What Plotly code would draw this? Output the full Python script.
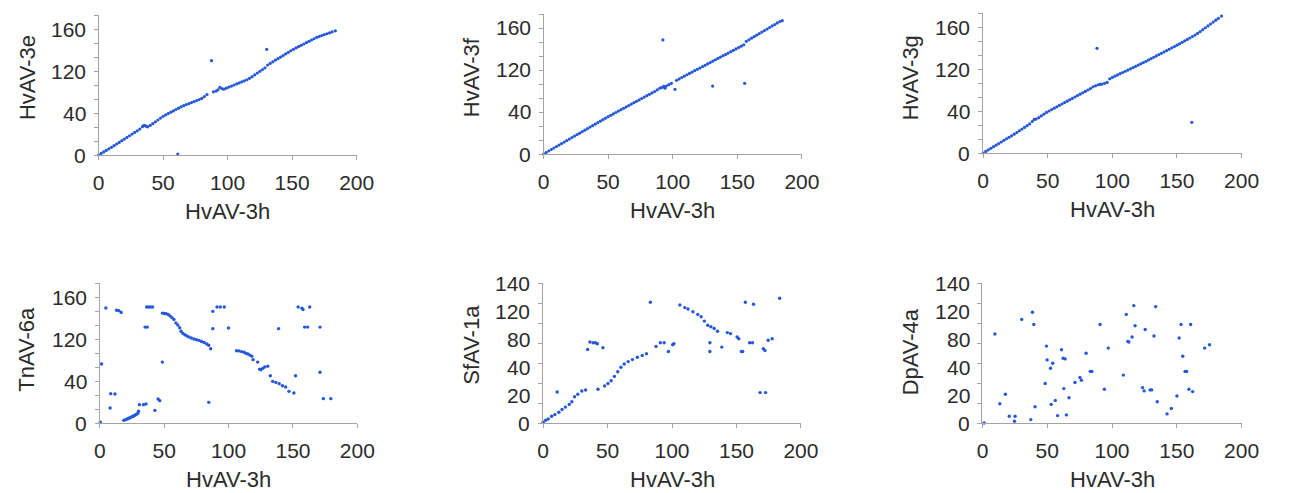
import plotly.graph_objects as go

# ---------------- data ----------------
X_LABEL = "HvAV-3h"
Y_LABELS = ["HvAV-3e", "HvAV-3f", "HvAV-3g", "TnAV-6a", "SfAV-1a", "DpAV-4a"]

X_TICKS = [0, 50, 100, 150, 200]
# y tick label positions / texts as printed on the figure
Y_TICKVALS_A = [0, 60, 120, 180]
Y_TICKTEXT_A = ["0", "40", "120", "160"]
Y_TICKVALS_B = [0, 28, 56, 84, 112, 140]
Y_TICKTEXT_B = ["0", "20", "40", "80", "120", "140"]

# HvAV-3e vs HvAV-3h
E_X = [0, 2, 4, 6, 8, 10, 12, 14, 16, 18, 20, 22, 24, 26, 28, 30, 32, 34, 35, 36, 37, 38, 40, 42, 44, 46, 48,
       50, 52, 54, 56, 58, 60, 62, 64, 66, 68, 70, 72, 74, 76, 78, 80, 82, 84,
       89, 91, 92.5, 94, 95.5, 97, 99, 101, 103, 105, 107, 109, 111, 113, 115, 117, 119, 121, 123, 125, 127, 129,
       131, 133, 135, 137, 139, 141, 143, 145, 147, 149, 151, 153, 155, 157, 159, 161, 163, 165, 167, 169,
       171, 173, 175, 177, 179, 181, 183.5,
       87.5, 130.3, 61.4]
E_Y = [0, 2.2, 4.4, 6.6, 8.8, 11, 13.3, 15.6, 18, 20.4, 22.8, 25.1, 27.5, 29.9, 32.3, 34.6, 37, 40.5, 42, 42, 41, 40.2, 42.3, 44.7, 47.3, 50, 52.8,
       55.3, 57.3, 59.2, 61.2, 63, 65, 66.9, 68.8, 70.5, 72, 73.4, 74.9, 76.3, 77.8, 79.2, 80.8, 83.5, 86.4,
       90.3, 91.3, 93, 96.5, 95, 94, 95.5, 97, 98.5, 100, 101.5, 103, 104.5, 106, 107.5, 109.5, 111.9, 114.5, 117, 119.5, 122, 124.5,
       128.6, 130.8, 133.1, 135.4, 137.6, 139.8, 142.1, 144.4, 146.6, 148.9, 151, 152.9, 154.8, 156.7, 158.6, 160.5, 162.4, 164.3, 166.1, 168,
       169.4, 170.7, 172, 173.2, 174.5, 175.8, 177.4,
       134.8, 151, 1.4]

# HvAV-3f vs HvAV-3h
F_X = [0, 2, 4, 6, 8, 10, 12, 14, 16, 18, 20, 22, 24, 26, 28, 30, 32, 34, 36, 38, 40, 42, 44, 46, 48,
       50, 52, 54, 56, 58, 60, 62, 64, 66, 68, 70, 72, 74, 76, 78, 80, 82, 84, 86,
       88, 90, 91.5, 93, 94, 95, 97, 99, 103, 105, 107, 109, 111, 113, 115, 117, 119, 121, 123, 125, 127, 129,
       131, 133, 135, 137, 139, 141, 143, 145, 147, 149, 151, 153, 155,
       157, 159, 161, 163, 165, 167, 169, 171, 173, 175, 177, 179, 181, 183, 184.8,
       92.4, 101.8, 130.9, 155.7]
F_Y = [0, 2.1, 4.3, 6.4, 8.5, 10.7, 12.8, 14.9, 17.1, 19.2, 21.3, 23.5, 25.6, 27.7, 29.8, 32, 34.1, 36.2, 38.4, 40.5, 42.6, 44.8, 46.9, 49, 51.2,
       53.3, 55.3, 57.3, 59.3, 61.3, 63.3, 65.3, 67.3, 69.3, 71.3, 73.3, 75.3, 77.3, 79.3, 81.3, 83.3, 85.3, 87.3, 89.3,
       91.5, 94, 95, 96.5, 94, 97, 99, 101, 105.3, 107.3, 109.3, 111.2, 113.2, 115.1, 117, 119, 120.9, 122.8, 124.8, 126.7, 128.7, 130.6,
       132.6, 134.5, 136.5, 138.4, 140.4, 142.3, 144.2, 146.2, 148.1, 150.1, 152, 154, 155.9,
       161, 163.2, 165.4, 167.6, 169.8, 172, 174.2, 176.3, 178.5, 180.7, 182.9, 185, 187.2, 189.3, 190.5,
       162.9, 92.4, 97, 101]

# HvAV-3g vs HvAV-3h
G_X = [0, 2, 4, 6, 8, 10, 12, 14, 16, 18, 20, 22, 24, 26, 28, 30, 32, 34, 36, 38, 39.5, 41, 43, 45, 47, 49,
       51, 53, 55, 57, 59, 61, 63, 65, 67, 69, 71, 73, 75, 77, 79, 81, 83,
       85, 87, 89, 90.5, 92, 94, 96, 98, 100, 102, 104, 106, 108, 110, 112, 114, 116, 118, 120, 122, 124,
       126, 128, 130, 132, 134, 136, 138, 140, 142, 144, 146, 148, 150, 152, 154, 156, 158, 160, 162, 164,
       166, 168, 170, 172, 174, 176, 178, 180, 182, 184.5,
       88.1, 161.5]
G_Y = [0, 2.2, 4.5, 6.7, 9, 11.2, 13.4, 15.7, 17.9, 20.2, 22.4, 24.6, 26.9, 29.2, 31.7, 34.2, 36.6, 39.1, 41.6, 45, 48, 48.5, 50.5, 53, 55.5, 58,
       60, 62, 64, 66, 68, 70, 72, 74, 76, 78, 80, 82, 84, 86, 88, 90, 92,
       94.5, 96, 97.5, 98, 98.5, 99.5, 101, 106, 108, 109.8, 111.6, 113.3, 115, 116.8, 118.5, 120.3, 122, 123.8, 125.6, 127.4, 129.2,
       131, 132.9, 134.8, 136.8, 138.7, 140.6, 142.5, 144.4, 146.3, 148.2, 150.2, 152.1, 154, 156, 158.1, 160.2, 162.3, 164.3, 166.4, 168.5,
       170.8, 173.5, 176.2, 178.9, 181.6, 184.3, 187, 189.7, 192.3, 195.6,
       149.5, 43.8]

# TnAV-6a vs HvAV-3h
T_X = [0.3, 1.3, 4.6, 7.9, 8.4, 11.7, 13, 14.7, 16.5,
       18.5, 19.5, 20.5, 21.5, 22.5, 23.5, 24.5, 25.5, 26.5, 27.5, 28.5, 29.5, 30,
       30.7, 33.8, 35.8, 35.1, 36.8, 36.3, 37.8, 39.3, 40.9, 42.7, 45.2, 46.5, 48.5,
       48.5, 50, 51.5, 53, 54.5, 56, 57.5, 59, 60.5, 62, 63, 64.5, 66, 67.5, 69, 71, 73, 75, 77, 79, 81, 83, 84.5, 86,
       84.6, 87.7, 87.7, 91, 93.5, 96.6, 99.9,
       106.2, 108, 110, 112, 113.5, 115, 116.5, 118, 119, 122.5, 124, 125, 126.5, 128, 130.4,
       132.4, 134.2, 136.7, 139.3, 141.8, 144.3, 146.9, 150.7,
       138.8, 152, 154, 157, 157.8, 163, 159, 161.4, 171, 171, 173.6, 179.4]
T_Y = [1, 84.3, 164.3, 21.4, 41.9, 41.4, 161, 160.5, 158,
       3.8, 4.5, 5.2, 6, 6.8, 7.6, 8.5, 9.4, 10.4, 11.4, 12.6, 14, 16.7,
       26.2, 26.2, 27.1, 137, 137, 165.7, 165.7, 165.7, 165.7, 18, 34.3, 31.9, 87,
       157, 156.5, 156, 155, 153, 150.5, 148, 143, 140, 136, 131, 128, 126, 124.5, 123, 121.5, 120, 119, 118, 116.5, 115, 113, 111, 106,
       29.5, 159.5, 134.8, 165.7, 165.7, 165.7, 135.7,
       103.3, 103, 102, 101, 99.5, 98.5, 97, 95.5, 90.5, 87, 77, 76, 78, 80, 81,
       67.6, 59.5, 58, 56.2, 53.3, 51.4, 45.2, 42.9,
       134.8, 67.6, 165.7, 164, 162, 165.7, 137, 137, 137, 72.4, 34.8, 34.8]

# SfAV-1a vs HvAV-3h
S_X = [0, 2, 4, 6.6, 9.1, 12.2, 14.7, 17.3, 20.3, 22.3, 24.4, 26.9, 30, 33,
       10.9, 34.5, 36.3, 38.8, 40.6, 42.1, 42.6, 46.4,
       47.7, 50.3, 52.8, 55.3, 57.9, 60.4, 62.9, 66, 69.3, 73.1, 76.9, 80.2,
       83.2, 87.6, 90.9, 93.9, 97.2, 100.5, 101.5,
       106.1, 109.9, 112.4, 116.2, 120, 122.6, 125.1, 127.7, 130.2, 132.7, 135.3,
       129.4, 129.4, 138.6, 142.9, 145.4, 150.5, 151.8, 153.8, 154.8,
       156.9, 163.2, 160.2, 162.4, 168.3, 172.6, 170.8, 172.1, 174.6, 177.7, 183.5]
S_Y = [0.7, 2.7, 4, 6.7, 8.4, 10.8, 13.5, 15.9, 18.6, 21.3, 26.3, 28.7, 32, 33,
       31, 73.5, 81, 80.3, 80.3, 79.3, 33.7, 75.2,
       37.1, 39.5, 42.2, 46.6, 51.3, 55.7, 59, 61.4, 63.4, 65.8, 67.5, 69.2,
       120.8, 76.6, 80.3, 80.3, 71.5, 78.3, 79.3,
       118, 115.4, 114, 111.3, 108.6, 106.3, 101.9, 97.8, 96.2, 94.5, 91.8,
       80.3, 71.5, 75.9, 90.4, 89.4, 86, 84.3, 71.5, 71.5,
       120.8, 118.8, 80.3, 80.3, 30.4, 30.4, 74.2, 72.5, 82.7, 84.3, 124.8]

# DpAV-4a vs HvAV-3h
D_X = [1.3, 9.6, 13.4, 17.7, 20.7, 24.7, 25.2, 30.3, 37.3, 38.6, 39.6, 40.6,
       48.4, 49.4, 49.9, 52.5, 53, 54.2, 56.2, 58, 61, 62.3, 63.8, 62.8, 64.8, 66.8,
       71.4, 75.2, 76.4, 80, 83.2, 84.5, 90.8, 94.1, 97.1,
       108.7, 111, 112.2, 113, 115.5, 116.8, 117.8, 123.6, 124.8, 125.6, 129.4, 130.6,
       132.4, 133.7, 134.9, 142.5, 145.8, 150.1, 151.8, 153.3, 154.6, 156.4, 157.6,
       159.4, 160.7, 162.2, 171.5, 175.3]
D_Y = [0, 89, 19.2, 28.7, 6.7, 1.7, 6.7, 103.6, 3.4, 110.7, 98.5, 16.2,
       39.5, 76.9, 63.1, 54.7, 18.6, 59.7, 22.6, 7.4, 73.2, 64.8, 64.1, 34.4, 8.1, 25.3,
       40.5, 45.5, 42.8, 69.8, 51.6, 51.6, 98.5, 33.7, 74.9,
       47.9, 108.6, 81.6, 81, 86, 117.4, 97.2, 35.4, 32.1, 93.5, 33.1, 33.1,
       87, 116.4, 21.3, 9.1, 14.5, 27, 85, 98.5, 66.8, 51.6, 51.6,
       33.7, 98.5, 31.4, 74.9, 78.3]

# ---------------- layout helpers ----------------
W, H = 1289, 493


def px_x(px):
    return px / W


def px_y(py):
    return 1 - py / H


PANELS = [
    dict(x=(94.3, 357.3), y=(155, 15), yr=200, tv=Y_TICKVALS_A, tt=Y_TICKTEXT_A, X=E_X, Y=E_Y, size=3.2, yt=(22, 77.5)),
    dict(x=(547.7, 811), y=(154, 14), yr=200, tv=Y_TICKVALS_A, tt=Y_TICKTEXT_A, X=F_X, Y=F_Y, size=3.2, yt=(474, 77)),
    dict(x=(995.7, 1259), y=(153, 13), yr=200, tv=Y_TICKVALS_A, tt=Y_TICKTEXT_A, X=G_X, Y=G_Y, size=3.2, yt=(922, 77.5)),
    dict(x=(95.7, 358), y=(423, 283), yr=200, tv=Y_TICKVALS_A, tt=Y_TICKTEXT_A, X=T_X, Y=T_Y, size=3.4, yt=(20, 349)),
    dict(x=(547.3, 810), y=(423, 283), yr=140, tv=Y_TICKVALS_B, tt=Y_TICKTEXT_B, X=S_X, Y=S_Y, size=3.4, yt=(474, 344.5)),
    dict(x=(995, 1259), y=(423, 283), yr=140, tv=Y_TICKVALS_B, tt=Y_TICKTEXT_B, X=D_X, Y=D_Y, size=3.4, yt=(922, 351.5)),
]

FONT = "Liberation Sans, Arial, sans-serif"
TXT = "#2b2b2b"
AXC = "#a3a3a3"
DOT = "#2558d9"

fig = go.Figure()
annotations = []
layout = dict(width=W, height=H, margin=dict(l=0, r=0, t=0, b=0),
              paper_bgcolor="white", plot_bgcolor="white", showlegend=False,
              font=dict(family=FONT, color=TXT))

for i, p in enumerate(PANELS, start=1):
    sx = "" if i == 1 else str(i)
    xd = [px_x(p["x"][0]), px_x(p["x"][1])]
    yd = [px_y(p["y"][0]), px_y(p["y"][1])]
    layout["xaxis" + sx] = dict(domain=xd, range=[0, 200], anchor="y" + sx,
                                tickmode="array", tickvals=X_TICKS,
                                ticks="outside", ticklen=4, tickcolor=AXC,
                                showline=True, linecolor=AXC, linewidth=1,
                                showgrid=False, zeroline=False,
                                tickfont=dict(size=21, color=TXT, family=FONT),
                                ticklabelstandoff=5, fixedrange=True)
    layout["yaxis" + sx] = dict(domain=yd, range=[0, p["yr"]], anchor="x" + sx,
                                tickmode="linear", tick0=0, dtick=20,
                                ticks="outside", ticklen=4, tickcolor=AXC,
                                showticklabels=False,
                                showline=True, linecolor=AXC, linewidth=1,
                                showgrid=False, zeroline=False, fixedrange=True)
    fig.add_trace(go.Scatter(x=p["X"], y=p["Y"], mode="markers", xaxis="x" + sx, yaxis="y" + sx,
                             marker=dict(color=DOT, size=p["size"], symbol="circle", line=dict(width=0)),
                             cliponaxis=False, hoverinfo="skip"))
    # y tick labels (printed values)
    for v, t in zip(p["tv"], p["tt"]):
        annotations.append(dict(text=t, xref="paper", yref="y" + sx,
                                x=px_x(p["x"][0] - 11), y=v, xanchor="right", yanchor="middle",
                                showarrow=False, font=dict(size=21, color=TXT, family=FONT)))
    # x title
    annotations.append(dict(text=X_LABEL, xref="paper", yref="paper",
                            x=px_x((p["x"][0] + p["x"][1]) / 2), y=px_y(p["y"][0] + 56),
                            xanchor="center", yanchor="middle", showarrow=False,
                            font=dict(size=22, color=TXT, family=FONT)))
    # y title
    annotations.append(dict(text=Y_LABELS[i - 1], xref="paper", yref="paper",
                            x=px_x(p["yt"][0]), y=px_y(p["yt"][1]), textangle=-90,
                            xanchor="center", yanchor="middle", showarrow=False,
                            font=dict(size=22, color=TXT, family=FONT)))

layout["annotations"] = annotations
fig.update_layout(**layout)
fig.write_html("out.html",
               config={"displayModeBar": False, "staticPlot": True},
               post_script="document.body.style.margin='0';"
                           "document.documentElement.style.overflow='hidden';"
                           "document.body.style.overflow='hidden';")
